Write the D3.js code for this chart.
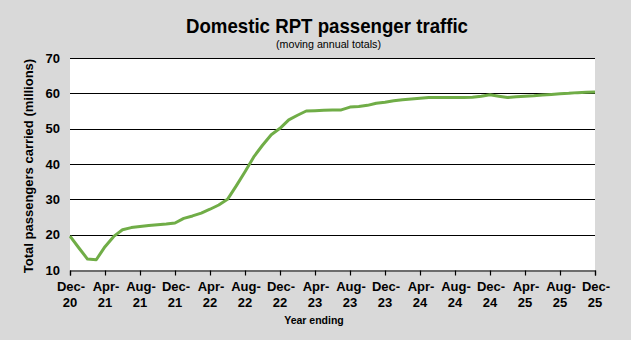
<!DOCTYPE html>
<html><head><meta charset="utf-8">
<script src="https://cdn.jsdelivr.net/npm/d3@7"></script>
<style>body{margin:0;background:#d9d9d9;} svg{display:block;font-family:"Liberation Sans",Arial,sans-serif;}</style>
</head><body>
<svg id="c" width="631" height="340"></svg>
<script>
// Months from Dec-20 (index 0) to Dec-25 (index 60)
const monthIdx = [0,1,2,3,4,5,6,7,8,9,10,11,12,13,14,15,16,17,18,19,20,21,22,23,24,25,26,27,28,29,30,31,32,33,34,35,36,37,38,39,40,41,42,43,44,45,46,47,48,49,50,51,52,53,54,55,56,57,58,59,60];
const passengers = [19.6,16.3,13.1,12.9,16.6,19.5,21.4,22.0,22.3,22.6,22.8,23.0,23.3,24.6,25.3,26.1,27.2,28.4,30.0,33.8,37.8,42.0,45.3,48.3,50.1,52.5,53.8,55.0,55.1,55.2,55.3,55.3,56.1,56.3,56.6,57.2,57.5,57.9,58.2,58.4,58.6,58.8,58.8,58.8,58.8,58.8,58.9,59.2,59.6,59.2,58.8,59.0,59.2,59.3,59.5,59.7,59.9,60.0,60.2,60.3,60.4];
const tickMonths = [0,4,8,12,16,20,24,28,32,36,40,44,48,52,56,60];
const tickLabels = [["Dec-","20"],["Apr-","21"],["Aug-","21"],["Dec-","21"],["Apr-","22"],["Aug-","22"],["Dec-","22"],["Apr-","23"],["Aug-","23"],["Dec-","23"],["Apr-","24"],["Aug-","24"],["Dec-","24"],["Apr-","25"],["Aug-","25"],["Dec-","25"]];
const yTicks = [10,20,30,40,50,60,70];

const svg = d3.select("#c");
const L=70,R=595,T=58,B=270;
const x = d3.scaleLinear().domain([0,60]).range([L,R]);
const y = d3.scaleLinear().domain([10,70]).range([B,T]);

svg.append("rect").attr("x",L).attr("y",T).attr("width",R-L).attr("height",B-T).attr("fill","#fff");

// gridlines
svg.append("g").selectAll("line").data(yTicks.slice(1)).join("line")
  .attr("x1",L).attr("x2",R).attr("y1",d=>Math.round(y(d))+0.5).attr("y2",d=>Math.round(y(d))+0.5)
  .attr("stroke","#000").attr("stroke-width",1.2);

// y labels
svg.append("g").selectAll("text").data(yTicks).join("text")
  .attr("x",L-10).attr("y",d=>y(d)+4.5).attr("text-anchor","end")
  .attr("font-size",13).attr("font-weight","bold").attr("fill","#000").text(d=>d);

// x axis
const xa = svg.append("g").attr("transform",`translate(0,${B+0.5})`)
  .call(d3.axisBottom(x).tickValues(tickMonths).tickSize(5).tickFormat(""));
xa.select(".domain").attr("stroke","#000").attr("stroke-width",1.2);
xa.selectAll(".tick line").attr("stroke","#000").attr("stroke-width",1.2);

const lab = svg.append("g").selectAll("text").data(tickMonths).join("text")
  .attr("text-anchor","middle").attr("font-size",13).attr("font-weight","bold").attr("fill","#000");
lab.append("tspan").attr("x",d=>x(d)+1).attr("y",291).text((d,i)=>tickLabels[i][0]);
lab.append("tspan").attr("x",d=>x(d)).attr("y",307).text((d,i)=>tickLabels[i][1]);

// line
const line = d3.line().x((d,i)=>x(monthIdx[i])).y(d=>y(d)).curve(d3.curveLinear);
svg.append("path").datum(passengers).attr("d",line).attr("fill","none")
  .attr("stroke","#70ad47").attr("stroke-width",3).attr("stroke-linejoin","round");

// titles
svg.append("text").attr("x",186).attr("y",32.5)
  .attr("font-size",20.5).attr("font-weight","bold").attr("textLength",282).attr("lengthAdjust","spacingAndGlyphs")
  .text("Domestic RPT passenger traffic");
svg.append("text").attr("x",276).attr("y",48)
  .attr("font-size",11).attr("textLength",105).attr("lengthAdjust","spacingAndGlyphs").text("(moving annual totals)");
svg.append("text").attr("x",314).attr("y",323.5).attr("text-anchor","middle")
  .attr("font-size",10.5).attr("font-weight","bold").text("Year ending");
svg.append("text").attr("transform","translate(33,166) rotate(-90)").attr("text-anchor","middle")
  .attr("font-size",13).attr("font-weight","bold").text("Total passengers carried (millions)");
</script>
</body></html>
